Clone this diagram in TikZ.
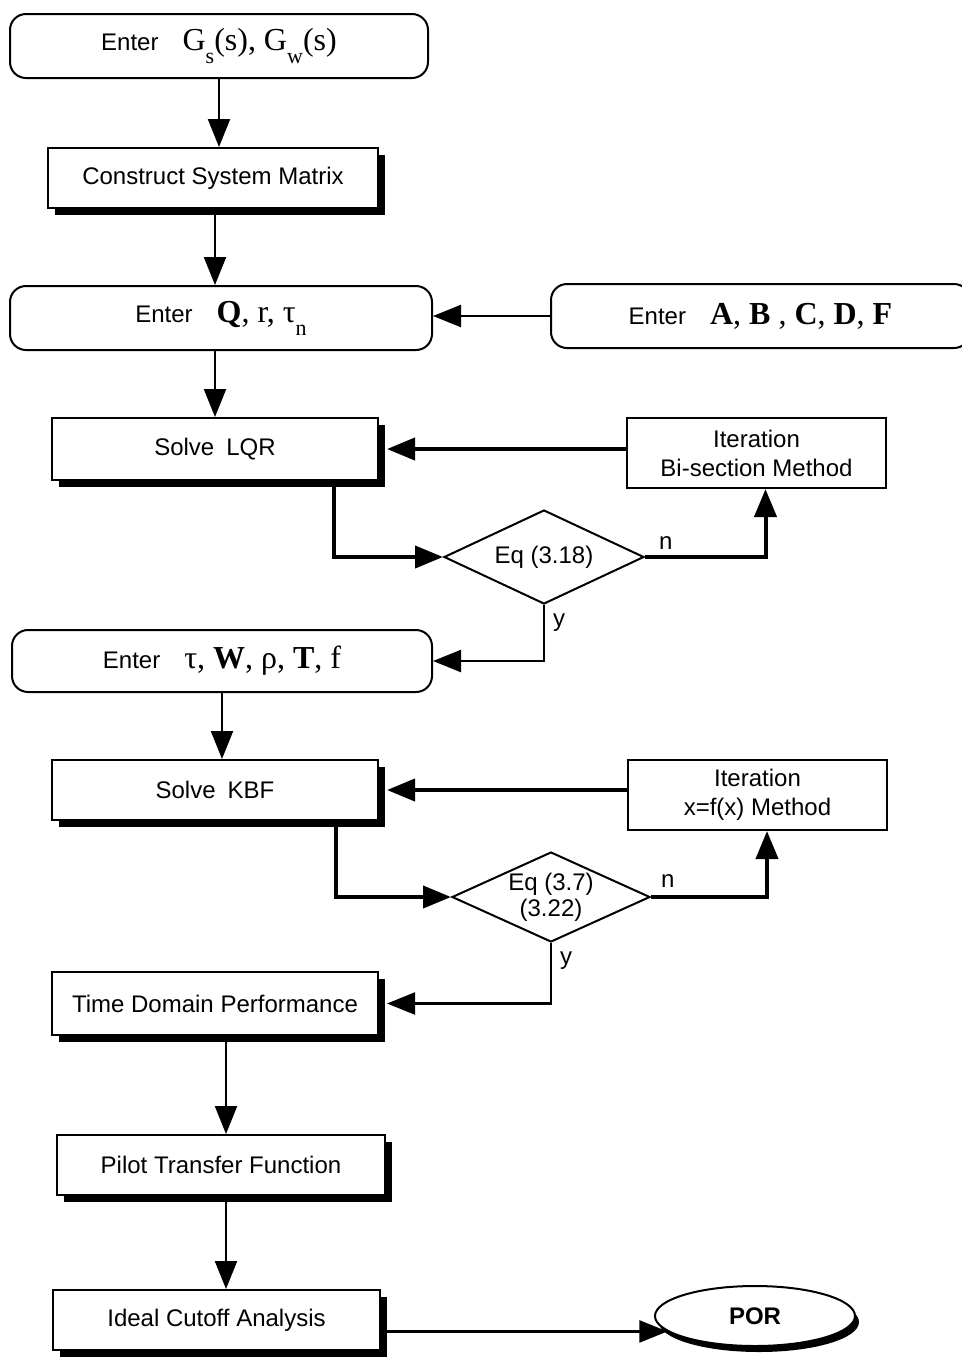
\documentclass[tikz,border=0pt]{standalone}
\usepackage{fontspec}
\setmainfont{Liberation Serif}
\setsansfont{Liberation Sans}
\usetikzlibrary{arrows.meta,shapes.geometric,shadows,calc}

% serif symbols and lowered indices inside the sans labels
\newcommand\sym[1]{{\rmfamily\fontsize{16}{18}\selectfont #1}}
\newcommand\idx[1]{\raisebox{-0.4em}{\fontsize{11}{12}\selectfont #1}}

\begin{document}
\begin{tikzpicture}[x=0.5pt, y=-0.5pt,
  font=\sffamily\fontsize{12}{14.5}\selectfont,
  box/.style={draw, line width=1pt, inner sep=0pt, fill=white, align=center},
  rbox/.style={box, rounded corners=8pt},
  sbox/.style={box, drop shadow={shadow xshift=3.5pt, shadow yshift=-3.5pt, fill=black, opacity=1}},
  test/.style={diamond, draw, line width=1pt, inner sep=0pt, aspect=2.1, align=center},
  flow/.style={line width=1.1pt, -{Triangle[length=14pt,width=11pt]}},
  loopline/.style={line width=2pt, -{Triangle[length=14pt,width=11pt]}},
  lbl/.style={inner sep=1pt}]
\useasboundingbox (0,0) rectangle (962,1357);
\begin{scope}
\clip (0,0) rectangle (962,1357);

% ---- blocks ----
\node[rbox, minimum width=209pt, minimum height=32pt] (cin) at (219,46)
  {Enter\quad\sym{G\idx{s}(s), G\idx{w}(s)}};
\node[sbox, minimum width=165pt, minimum height=30pt] (csm) at (213,178)
  {Construct System Matrix};
\node[rbox, minimum width=211pt, minimum height=32pt] (cq) at (221,318)
  {Enter\quad\sym{\textbf{Q}, r, τ\idx{n}}};
\node[rbox, minimum width=209.5pt, minimum height=32pt] (cabc) at (760.5,316)
  {Enter\quad\sym{\textbf{A}, \textbf{B} , \textbf{C}, \textbf{D}, \textbf{F}}};
\node[sbox, minimum width=163pt, minimum height=31pt] (lqr) at (215,449)
  {Solve\enspace LQR};
\node[box, minimum width=129.5pt, minimum height=35pt] (it1) at (756.5,453)
  {Iteration\\Bi-section Method};
\node[test, minimum width=100pt, minimum height=47pt] (d1) at (544,557)
  {Eq (3.18)};
\node[rbox, minimum width=210pt, minimum height=31pt] (cw) at (222,661)
  {Enter\quad\sym{τ, \textbf{W}, ρ, \textbf{T}, f}};
\node[sbox, minimum width=163pt, minimum height=30pt] (kbf) at (215,790)
  {Solve\enspace KBF};
\node[box, minimum width=129.5pt, minimum height=35pt] (it2) at (757.5,795)
  {Iteration\\x=f(x) Method};
\node[test, minimum width=99pt, minimum height=45pt] (d2) at (551,897)
  {Eq (3.7)\\[-1.5pt](3.22)};
\node[sbox, minimum width=163pt, minimum height=31.5pt] (tdp) at (215,1003.5)
  {Time Domain Performance};
\node[sbox, minimum width=164pt, minimum height=30pt] (ptf) at (221,1165)
  {Pilot Transfer Function};
\node[sbox, minimum width=163.5pt, minimum height=30pt] (ica) at (216.5,1320)
  {Ideal Cutoff Analysis};
\node[ellipse, draw, line width=1pt, fill=white, minimum width=100pt, minimum height=30pt,
  drop shadow={shadow xshift=2pt, shadow yshift=-3pt, fill=black, opacity=1},
  font=\sffamily\bfseries\fontsize{12}{14}\selectfont] (por) at (755,1316) {POR};

% ---- connectors ----
\draw[flow] (cin.south) -- (cin.south |- csm.north);
\draw[flow] ([xshift=1pt]csm.south) -- ([xshift=1pt]csm.south |- cq.north);
\draw[flow] (cabc.west) -- (cabc.west -| cq.east);
\draw[flow] (lqr.north |- cq.south) -- (lqr.north);
\draw[loopline] (it1.west |- lqr.east) -- ([xshift=4pt]lqr.east);
\draw[loopline] ([xshift=-22.5pt]lqr.south east) |- (d1.west);
\draw[loopline] (d1.east) -| ([xshift=4.5pt]it1.south)
  node[lbl, pos=0, anchor=south west, xshift=5pt, yshift=2pt] {n};
\draw[flow] (d1.south) |- (cw.east)
  node[lbl, pos=0, anchor=north west, xshift=3pt, yshift=-3pt] {y};
\draw[flow] (cw.south) -- (cw.south |- kbf.north);
\draw[loopline] (it2.west |- kbf.east) -- ([xshift=4pt]kbf.east);
\draw[loopline] ([xshift=-21.5pt]kbf.south east) |- (d2.west);
\draw[loopline] (d2.east) -| ([xshift=4.75pt]it2.south)
  node[lbl, pos=0, anchor=south west, xshift=3pt, yshift=3pt] {n};
\draw[flow] (d2.south) |- ([xshift=4pt]tdp.east)
  node[lbl, pos=0, anchor=north west, xshift=3pt, yshift=-3pt] {y};
\draw[flow] ([xshift=5.5pt]tdp.south) -- ([xshift=5.5pt]tdp.south |- ptf.north);
\draw[flow] ([xshift=2.5pt]ptf.south) -- ([xshift=2.5pt]ptf.south |- ica.north);
\draw[flow] (por.190 -| ica.east) -- (por.190);
\end{scope}
\end{tikzpicture}
\end{document}
